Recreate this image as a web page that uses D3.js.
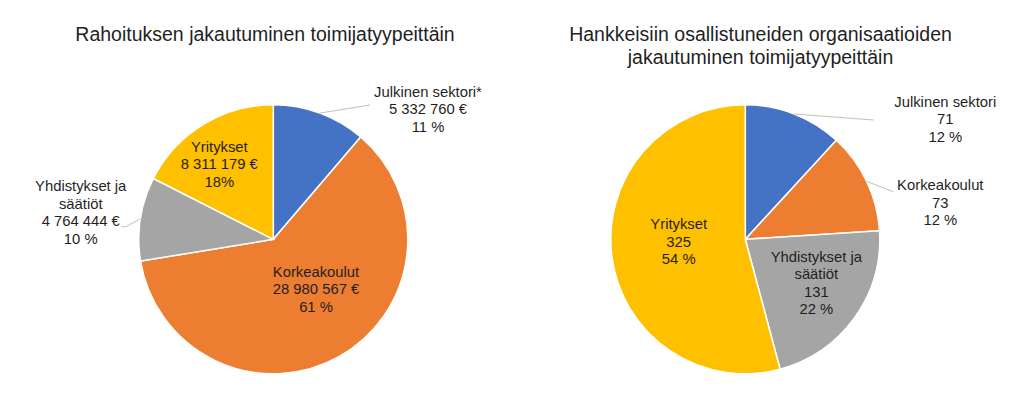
<!DOCTYPE html>
<html>
<head>
<meta charset="utf-8">
<script src="https://cdn.jsdelivr.net/npm/d3@7"></script>
<style>
  html, body { margin: 0; padding: 0; background: #fff; }
  svg text { font-family: "Liberation Sans", Arial, sans-serif; fill: #1f1f1f; }
</style>
</head>
<body>
<script>
"use strict";
// categories, clockwise from 12 o'clock
const fundCategories = ["Julkinen sektori*", "Korkeakoulut", "Yhdistykset ja säätiöt", "Yritykset"];
const fundValues = [5332760, 28980567, 4764444, 8311179];
const fundPercents = ["11 %", "61 %", "10 %", "18%"];

const orgCategories = ["Julkinen sektori", "Korkeakoulut", "Yhdistykset ja säätiöt", "Yritykset"];
const orgValues = [71, 73, 131, 325];
const orgPercents = ["12 %", "12 %", "22 %", "54 %"];

const colors = ["#4472C4", "#ED7D31", "#A5A5A5", "#FFC000"];

const W = 1024, H = 411;
const radius = 134.5;
const lineH = 17.5;

const svg = d3.select("body").append("svg").attr("width", W).attr("height", H);

function fmtEuro(n) {
	return d3.format(",")(n).replace(/,/g, " ") + " €";
}

// label layout: first baseline offset from pie centre, label lines, optional leader end
function drawPie(cfg) {
	const g = svg.append("g").attr("transform", "translate(" + cfg.cx + "," + cfg.cy + ")");
	const pie = d3.pie().sort(null).value(d => d)(cfg.values);
	const arc = d3.arc().innerRadius(0).outerRadius(radius);
	const edge = d3.arc().innerRadius(radius).outerRadius(radius);
	g.selectAll("path.slice")
		.data(pie)
		.enter()
		.append("path")
		.attr("class", "slice")
		.attr("d", arc)
		.attr("fill", (d, i) => colors[i])
		.attr("stroke", "#fff")
		.attr("stroke-width", 1.5);
	pie.forEach((d, i) => {
		const L = cfg.labels[i];
		if (L.leader) {
			const p = edge.centroid(d);
			const pts = [p].concat(L.leader);
			g.append("path")
				.attr("d", d3.line()(pts))
				.attr("fill", "none")
				.attr("stroke", "#BFBFBF")
				.attr("stroke-width", 1);
		}
		const t = g.append("text").attr("text-anchor", "middle").style("font-size", "14.8px");
		L.lines.forEach((s, k) => {
			t.append("tspan").attr("x", L.dx).attr("y", L.dy + k * lineH).text(s);
		});
	});
	const title = svg.append("text")
		.attr("text-anchor", "middle")
		.style("font-size", "19.5px");
	cfg.title.forEach((s, k) => {
		title.append("tspan").attr("x", cfg.tx).attr("y", 40.7 + k * 23.3).text(s);
	});
}

drawPie({
	cx: 273.3, cy: 239.3, tx: 265,
	title: ["Rahoituksen jakautuminen toimijatyypeittäin"],
	values: fundValues,
	labels: [
		{dx: 154.7, dy: -142.6, lines: [fundCategories[0], fmtEuro(fundValues[0]), fundPercents[0]], leader: [[96.7, -134.3]]},
		{dx: 42.7, dy: 37.4, lines: [fundCategories[1], fmtEuro(fundValues[1]), fundPercents[1]]},
		{dx: -192.6, dy: -48.3, lines: ["Yhdistykset ja", "säätiöt", fmtEuro(fundValues[2]), fundPercents[2]], leader: [[-147.3, -12.6], [-151.6, -12.6]]},
		{dx: -54, dy: -87.6, lines: [fundCategories[3], fmtEuro(fundValues[3]), fundPercents[3]]}
	]
});

drawPie({
	cx: 745.3, cy: 239.3, tx: 760.5,
	title: ["Hankkeisiin osallistuneiden organisaatioiden", "jakautuminen toimijatyypeittäin"],
	values: orgValues,
	labels: [
		{dx: 200, dy: -132.6, lines: [orgCategories[0], String(orgValues[0]), orgPercents[0]], leader: [[128.4, -119.3]]},
		{dx: 195, dy: -49.3, lines: [orgCategories[1], String(orgValues[1]), orgPercents[1]], leader: [[148, -47.6]]},
		{dx: 71, dy: 22.4, lines: ["Yhdistykset ja", "säätiöt", String(orgValues[2]), orgPercents[2]]},
		{dx: -66.6, dy: -10, lines: [orgCategories[3], String(orgValues[3]), orgPercents[3]]}
	]
});
</script>
</body>
</html>
